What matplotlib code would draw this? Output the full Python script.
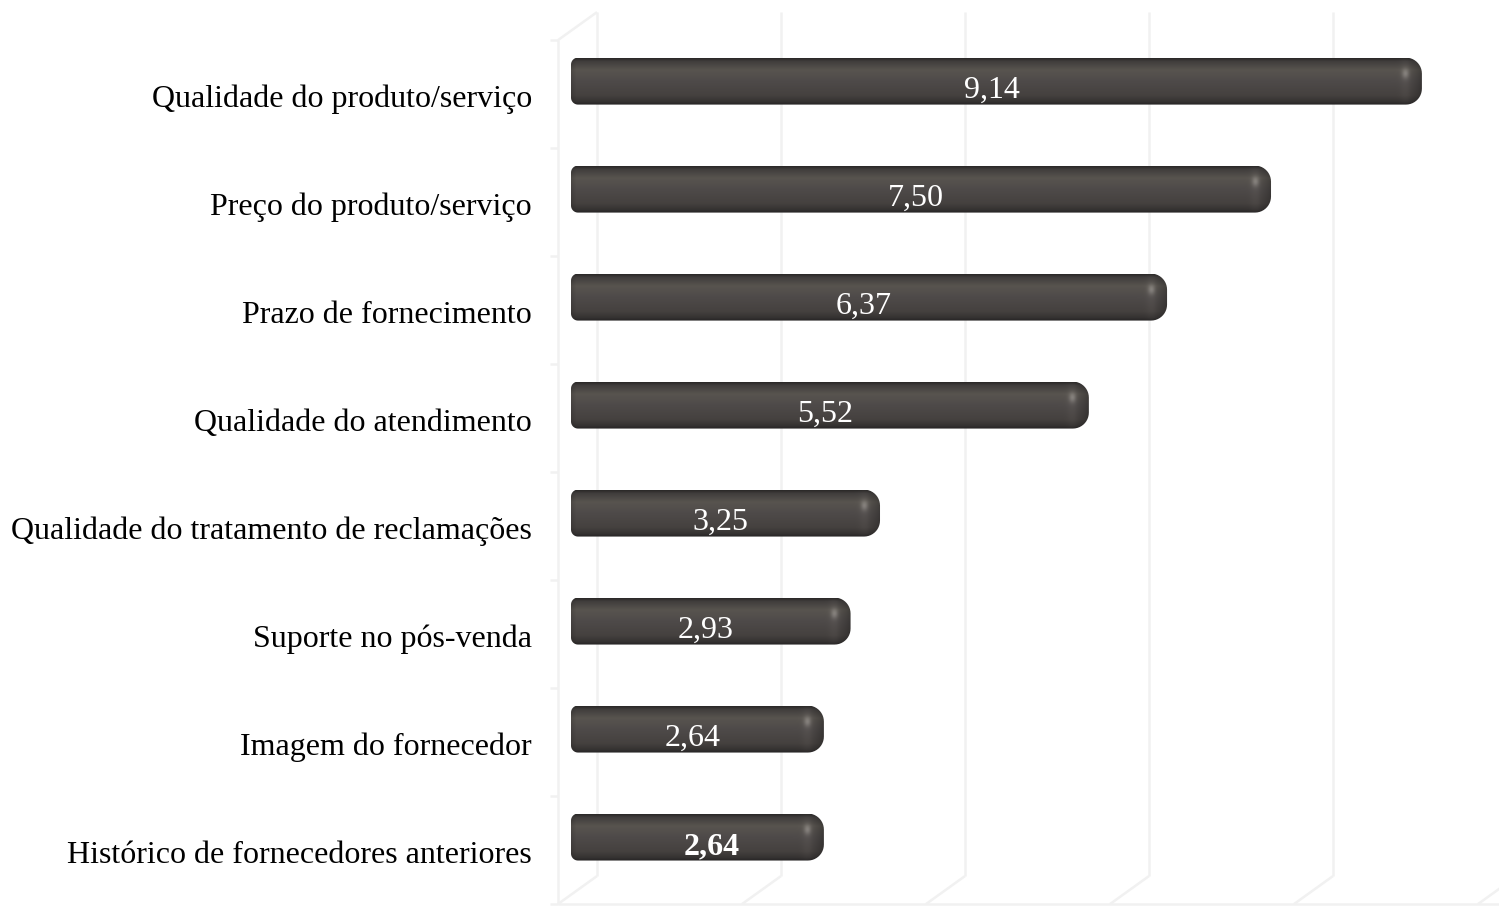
import numpy as np
import matplotlib
matplotlib.use("Agg")
import matplotlib.pyplot as plt
from matplotlib.path import Path
from matplotlib.patches import PathPatch
from matplotlib.lines import Line2D
from matplotlib.transforms import IdentityTransform, offset_copy
from matplotlib.colors import to_rgb

# data
categories = [
    "Qualidade do produto/serviço",
    "Preço do produto/serviço",
    "Prazo de fornecimento",
    "Qualidade do atendimento",
    "Qualidade do tratamento de reclamações",
    "Suporte no pós-venda",
    "Imagem do fornecedor",
    "Histórico de fornecedores anteriores",
]
values = [9.14, 7.50, 6.37, 5.52, 3.25, 2.93, 2.64, 2.64]
grid_ticks = [0, 2, 4, 6, 8, 10]

FONT = "Liberation Serif"
GRID = "#f1f1f1"
W_PX, H_PX = 1499, 908

#------------------------------------------------------------------#
# figure / axes
fig = plt.figure(figsize=(W_PX / 100, H_PX / 100), dpi=100)
ax = fig.add_axes([540 / W_PX, 0, 959 / W_PX, 1])
ax.patch.set_visible(False)
for s in ax.spines.values():
    s.set_visible(False)

n = len(categories)
ypos = np.arange(n)
bar_shift = 0.24      # bars sit a bit above the label baseline (3d look)
bar_h = 0.435

ax.set_xlim(-0.4457, 9.978)
ax.set_ylim(7.417, -0.991)
ax.set_xticks([])
ax.set_yticks(ypos)
ax.set_yticklabels(categories, fontsize=23, family=FONT, color="black")
for lab in ax.get_yticklabels():
    lab.set_verticalalignment("baseline")
ax.tick_params(axis="y", length=0, pad=5.8)

bars = ax.barh(ypos - bar_shift, values, height=bar_h, color="none", edgecolor="none")

#------------------------------------------------------------------#
# faint 3d walls / floor
def disp(x, y):
    return ax.transData.transform((x, y))

def gline(xs, ys):
    ax.add_line(Line2D(xs, ys, transform=IdentityTransform(), color=GRID,
                       lw=1.8, zorder=0, solid_capstyle="butt"))

front = np.array([-23, -13])
back = np.array([16, 15])
y_top = -0.5 - bar_shift
y_bot = n - 0.5 - bar_shift

for t in grid_ticks:
    fb = disp(t, y_bot) + front
    bb = disp(t, y_bot) + back
    bt = disp(t, y_top) + back
    gline([fb[0], bb[0]], [fb[1], bb[1]])
    gline([bb[0], bt[0]], [bb[1], bt[1]])

ft = disp(0, y_top) + front
fb = disp(0, y_bot) + front
bt = disp(0, y_top) + back
gline([fb[0], ft[0]], [fb[1], ft[1]])
gline([ft[0], bt[0]], [ft[1], bt[1]])
gline([fb[0], W_PX], [fb[1], fb[1]])
for k in range(n + 1):
    p = disp(0, k - 0.5 - bar_shift) + front
    gline([p[0] - 8, p[0]], [p[1], p[1]])

#------------------------------------------------------------------#
# shaded rounded bars
stops = [(0.0, "#2c2a29"), (0.06, "#403d3c"), (0.25, "#58544f"),
         (0.5, "#4e4a49"), (0.8, "#45413f"), (0.93, "#363332"), (1.0, "#272525")]

def vprofile(m):
    f = np.linspace(0, 1, m)
    out = np.zeros((m, 3))
    pos = [s[0] for s in stops]
    cols = np.array([to_rgb(s[1]) for s in stops])
    for c in range(3):
        out[:, c] = np.interp(f, pos, cols[:, c])
    return out

def rounded(x0, x1, y0, y1, rl, rr):
    pts = []
    a = np.linspace(0, np.pi / 2, 12)
    # right side (top-right then bottom-right)
    for th in a[::-1]:
        pts.append((x1 - rr + rr * np.cos(th), y1 - rr + rr * np.sin(th)))
    for th in a:
        pts.append((x1 - rr + rr * np.cos(th), y0 + rr - rr * np.sin(th)))
    # left side
    for th in a[::-1]:
        pts.append((x0 + rl - rl * np.cos(th), y0 + rl - rl * np.sin(th)))
    for th in a:
        pts.append((x0 + rl - rl * np.cos(th), y1 - rl + rl * np.sin(th)))
    pts.append(pts[0])
    return np.array(pts)

cap = 10  # left end sticks out a little
for b in bars:
    x0d, wd, y0d, hd = b.get_x(), b.get_width(), b.get_y(), b.get_height()
    p0 = disp(x0d, y0d + hd)
    p1 = disp(x0d + wd, y0d)
    X0, X1 = p0[0] - cap, p1[0]
    Y0, Y1 = p0[1], p1[1]
    Wp, Hp = int(round(X1 - X0)), int(round(Y1 - Y0))

    img = np.repeat(vprofile(Hp)[:, None, :], Wp, axis=1)
    d = (X1 - X0) - np.arange(Wp) - 0.5          # distance from right edge
    shade = np.ones(Wp)
    shade += 0.08 * np.exp(-((d - 17) / 5.0) ** 2)
    shade *= np.where(d < 14, 0.7 + 0.3 * np.clip(d / 14, 0, 1) ** 0.7, 1.0)
    shade *= np.where(np.arange(Wp) < 5, 0.88 + 0.024 * np.arange(Wp), 1.0)
    img = img * shade[None, :, None]
    # small specular spot near the right end
    yy, xx = np.mgrid[0:Hp, 0:Wp]
    spot = np.exp(-(((xx - (Wp - 17)) / 3.5) ** 2 + ((yy - Hp * 0.32) / 5.0) ** 2))
    img = img + 0.16 * spot[:, :, None]
    img = np.clip(img, 0, 1)

    inv = ax.transData.inverted()
    poly = inv.transform(rounded(X0, X1, Y0, Y1, 7, 16))
    patch = PathPatch(Path(poly), facecolor="none", edgecolor="none", transform=ax.transData)
    ax.add_patch(patch)
    xa = inv.transform((X0, Y0))[0]
    im = ax.imshow(img, extent=(xa, x0d + wd, y0d + hd, y0d), origin="upper",
                   aspect="auto", interpolation="bilinear", zorder=2)
    im.set_clip_path(patch)

# value labels
for i, v in enumerate(values):
    last = i == n - 1
    tr = offset_copy(ax.transData, fig=fig, x=(9 if last else -10), y=-17, units="dots")
    ax.text(v / 2, i - bar_shift, f"{v:.2f}".replace(".", ","), transform=tr,
            ha="center", va="baseline", color="white", fontsize=23, family=FONT,
            fontweight=("bold" if last else "normal"), zorder=3)

ax.set_xlim(-0.4457, 9.978)
ax.set_ylim(7.417, -0.991)

fig.savefig("out.png", dpi=100)
